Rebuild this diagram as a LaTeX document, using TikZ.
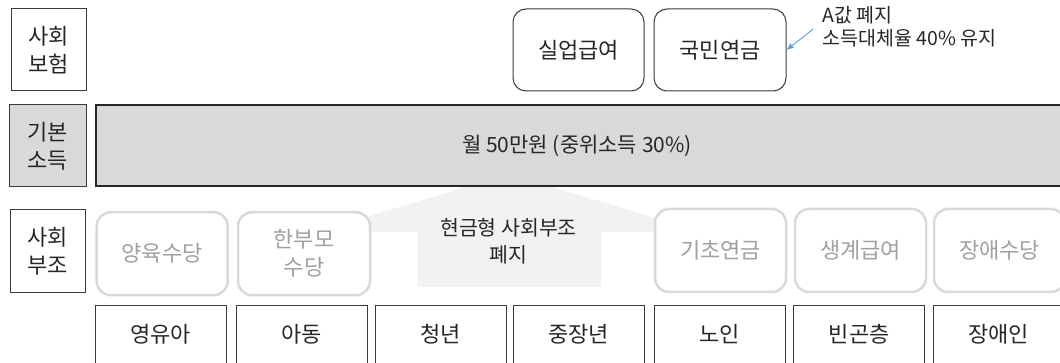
\documentclass[tikz,border=0pt]{standalone}
\usepackage{fontspec}
\setmainfont{Noto Sans CJK KR}
\usetikzlibrary{arrows.meta}
\definecolor{lblk}{HTML}{3A3A3A}
\definecolor{txt}{HTML}{262626}
\definecolor{gline}{HTML}{D9D9D9}
\definecolor{gtext}{HTML}{A0A0A0}
\definecolor{barfill}{HTML}{D9D9D9}
\definecolor{arrfill}{HTML}{F2F2F2}
\definecolor{noteblue}{HTML}{5B9BD5}
\tikzset{
  basetxt/.style={inner sep=0pt, font=\fontsize{22}{28}\selectfont, align=center, text=txt},
  labelbox/.style={basetxt, draw=lblk, line width=1pt},
  topbox/.style={basetxt, draw=lblk, line width=1pt, rounded corners=13pt, fill=white, minimum width=131pt, minimum height=82pt},
  graybox/.style={basetxt, draw=gline, line width=2.5pt, rounded corners=14pt, fill=white, text=gtext, minimum width=131pt, minimum height=83pt},
  groupbox/.style={basetxt, draw=lblk, line width=1pt, fill=white, minimum width=131pt, minimum height=58pt},
  bigbar/.style={basetxt, draw=black!85, line width=1.2pt, fill=barfill},
  notetxt/.style={inner sep=0pt, font=\fontsize{19.5}{23}\selectfont, align=left, text=txt},
  notearrow/.style={-{Latex[length=7pt,width=6pt]}, draw=noteblue, line width=0.9pt},
}
\begin{document}
\begin{tikzpicture}[x=1pt,y=-1pt]
\useasboundingbox (0,0) rectangle (1060,363);
% upward arrow shape
\fill[arrfill] (417.3,287) -- (417.3,231.7) -- (318,231.7) -- (509.2,173.8) -- (700,231.7) -- (601,231.7) -- (601,287) -- cycle;
\node[basetxt, font=\fontsize{20.5}{27}\selectfont] (abol) at (508.5,241.5) {현금형 사회부조\\폐지};
% row labels
\node[labelbox, minimum width=75pt, minimum height=82pt] (sb) at (48.5,50) {사회\\보험};
\node[labelbox, fill=barfill, minimum width=77pt, minimum height=82pt] (bi) at (47.5,146) {기본\\소득};
\node[labelbox, minimum width=74.5pt, minimum height=83.4pt] (sj) at (47.75,251.3) {사회\\부조};
% basic income bar
\node[bigbar, minimum width=968pt, minimum height=81pt, text width=0pt] (bar) at (580,145.5) {};
\node[basetxt, font=\fontsize{21}{28}\selectfont] (bartxt) at (577,146) {월 50만원 (중위소득 30\%)};
% social insurance
\node[topbox] (unemp) at (578.5,50) {실업급여};
\node[topbox, minimum width=132pt] (kmyg) at (720,50) {국민연금};
\node[notetxt, anchor=west] (note) at (822.5,27) {A값 폐지\\소득대체율 40\% 유지};
\coordinate (nstart) at (813.3,29);
\draw[notearrow] (nstart) -- (kmyg.east);
% social assistance (abolished)
\node[graybox] (g1) at (162.2,253.7) {양육수당};
\node[graybox, minimum width=132pt] (g2) at (304,253.7) {한부모\\수당};
\node[graybox] (g3) at (720.5,250.5) {기초연금};
\node[graybox] (g4) at (860.5,250.5) {생계급여};
\node[graybox] (g5) at (999.5,250.5) {장애수당};
% target groups
\node[groupbox] (p1) at (160.5,334.5) {영유아};
\node[groupbox] (p2) at (301.5,334.5) {아동};
\node[groupbox] (p3) at (440.5,334.5) {청년};
\node[groupbox] (p4) at (578.5,334.5) {중장년};
\node[groupbox] (p5) at (719.5,334.5) {노인};
\node[groupbox] (p6) at (859.3,334.5) {빈곤층};
\node[groupbox] (p7) at (998.5,334.5) {장애인};
\end{tikzpicture}
\end{document}
